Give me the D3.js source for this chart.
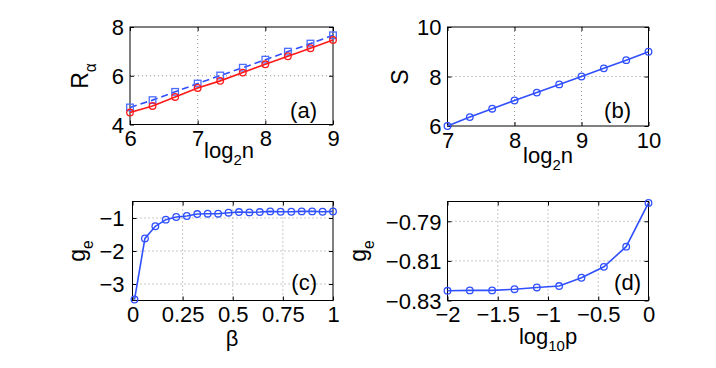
<!DOCTYPE html>
<html><head><meta charset="utf-8">
<script src="https://cdn.jsdelivr.net/npm/d3@7"></script>
<style>
body{margin:0;background:#fff;}
text{font-family:"Liberation Sans",Arial,Helvetica,sans-serif;fill:#000;}
</style></head>
<body><svg id="c" width="716" height="368"></svg>
<script>
// ---- data ----
const aX = [6, 6.333, 6.667, 7, 7.333, 7.667, 8, 8.333, 8.667, 9];
const aRed = [4.49, 4.76, 5.13, 5.50, 5.79, 6.13, 6.47, 6.80, 7.13, 7.47];
const aBlue = [4.70, 5.00, 5.34, 5.68, 6.01, 6.33, 6.66, 6.99, 7.32, 7.66];
const bX = [7, 7.333, 7.667, 8, 8.333, 8.667, 9, 9.333, 9.667, 10];
const bS = [6.0, 6.36, 6.70, 7.03, 7.35, 7.68, 8.0, 8.33, 8.66, 9.0];
const cBeta = [0.01, 0.062, 0.114, 0.166, 0.218, 0.271, 0.323, 0.375, 0.427, 0.479,
               0.531, 0.583, 0.635, 0.687, 0.739, 0.792, 0.844, 0.896, 0.948, 1.0];
const cG = [-3.47, -1.62, -1.25, -1.05, -0.97, -0.94, -0.88, -0.87, -0.87, -0.84,
            -0.82, -0.83, -0.82, -0.80, -0.81, -0.81, -0.80, -0.80, -0.81, -0.80];
const dX = [-2, -1.778, -1.556, -1.333, -1.111, -0.889, -0.667, -0.444, -0.222, 0];
const dG = [-0.8251, -0.8249, -0.8249, -0.8243, -0.8234, -0.8227, -0.8185, -0.8130, -0.8028, -0.7807];
const aXTicks = [6, 7, 8, 9], aYTicks = [4, 6, 8];
const bXTicks = [7, 8, 9, 10], bYTicks = [6, 8, 10];
const cXTicks = [0, 0.25, 0.5, 0.75, 1], cYTicks = [-3, -2, -1];
const cXLabels = ["0", "0.25", "0.5", "0.75", "1"];
const dXTicks = [-2, -1.5, -1, -0.5, 0], dYTicks = [-0.83, -0.81, -0.79];
const dXLabels = ["\u22122", "\u22121.5", "\u22121", "\u22120.5", "0"];
const dYLabels = ["\u22120.83", "\u22120.81", "\u22120.79"];

const BLUE = "#3050ff", RED = "#ff1a1a", SQ = "#4a6cff";
const svg = d3.select("#c");

function panel(o) {
  const x = d3.scaleLinear().domain(o.xd).range([o.l, o.r]);
  const y = d3.scaleLinear().domain(o.yd).range([o.b, o.t]);
  const g = svg.append("g");
  o.xGrid.forEach(v => g.append("line").attr("x1", x(v)).attr("x2", x(v)).attr("y1", o.t).attr("y2", o.b)
    .attr("stroke", "#777").attr("stroke-width", 0.8).attr("stroke-dasharray", "1,3"));
  o.yGrid.forEach(v => g.append("line").attr("y1", y(v)).attr("y2", y(v)).attr("x1", o.l).attr("x2", o.r)
    .attr("stroke", "#777").attr("stroke-width", 0.8).attr("stroke-dasharray", "1,3"));
  const xa = d3.axisBottom(x).tickValues(o.xt).tickSize(-4).tickPadding(6)
    .tickFormat((d, i) => o.xl ? o.xl[i] : String(d));
  const ya = d3.axisLeft(y).tickValues(o.yt).tickSize(-4).tickPadding(o.yp || 6)
    .tickFormat((d, i) => o.yl ? o.yl[i] : String(d));
  const gx = g.append("g").attr("transform", `translate(0,${o.b})`).call(xa);
  const gy = g.append("g").attr("transform", `translate(${o.l},0)`).call(ya);
  const gxt = g.append("g").attr("transform", `translate(0,${o.t})`).call(d3.axisTop(x).tickValues(o.xt).tickSize(-4).tickFormat(""));
  const gyr = g.append("g").attr("transform", `translate(${o.r},0)`).call(d3.axisRight(y).tickValues(o.yt).tickSize(-4).tickFormat(""));
  [gx, gy, gxt, gyr].forEach(a => {
    a.select(".domain").remove();
    a.selectAll("line").attr("stroke", "#000");
    a.selectAll("text").attr("font-size", o.fs).attr("font-family", "Liberation Sans, Arial, sans-serif").attr("fill", "#000");
  });
  gx.selectAll("text").attr("dy", "0.72em");
  gy.selectAll("text").attr("dy", "0.36em");
  g.append("rect").attr("x", o.l).attr("y", o.t).attr("width", o.r - o.l).attr("height", o.b - o.t)
    .attr("fill", "none").attr("stroke", "#000").attr("stroke-width", 1);
  return {x, y, g};
}

function series(p, xs, ys, color, marker, dash, mcolor) {
  const line = d3.line().x((d, i) => p.x(xs[i])).y(d => p.y(d));
  p.g.append("path").attr("d", line(ys)).attr("fill", "none").attr("stroke", color)
    .attr("stroke-width", 1.6).attr("stroke-dasharray", dash || null);
  ys.forEach((v, i) => {
    if (marker === "circle") {
      p.g.append("circle").attr("cx", p.x(xs[i])).attr("cy", p.y(v)).attr("r", 3.3)
        .attr("fill", "none").attr("stroke", mcolor || color).attr("stroke-width", 1.3);
    } else {
      p.g.append("rect").attr("x", p.x(xs[i]) - 3.3).attr("y", p.y(v) - 3.3).attr("width", 6.6).attr("height", 6.6)
        .attr("fill", "none").attr("stroke", mcolor || color).attr("stroke-width", 1.3);
    }
  });
}

function label(x, y, main, sub, fs, rot, subShift) {
  const t = svg.append("text").attr("font-size", fs).attr("text-anchor", "middle")
    .attr("transform", `translate(${x},${y})` + (rot ? " rotate(-90)" : ""));
  t.append("tspan").text(main[0]);
  if (sub) {
    const s = subShift || fs * 0.3;
    t.append("tspan").attr("font-size", fs * 0.68).attr("dy", s).text(sub);
    if (main[1]) t.append("tspan").attr("dy", -s).text(main[1]);
  }
  return t;
}

const FS = 22;
// panel (a)
const pa = panel({l: 130, r: 333, t: 27, b: 124.5, xd: [6, 9], yd: [4, 8], xt: aXTicks, yt: aYTicks,
  xGrid: [7, 8], yGrid: [6], fs: FS});
series(pa, aX, aBlue, BLUE, "square", "7,4", SQ);
series(pa, aX, aRed, RED, "circle");
svg.append("text").attr("x", 317).attr("y", 118).attr("text-anchor", "end").attr("font-size", FS).text("(a)");
label(229, 158, ["log", "n"], "2", FS, false);
label(88, 76, ["R"], "\u03b1", 23, true, 8);

// panel (b)
const pb = panel({l: 447.5, r: 648.5, t: 27, b: 126, xd: [7, 10], yd: [6, 10], xt: bXTicks, yt: bYTicks,
  xGrid: [8, 9], yGrid: [8], fs: FS});
series(pb, bX, bS, BLUE, "circle");
svg.append("text").attr("x", 631).attr("y", 118).attr("text-anchor", "end").attr("font-size", FS).text("(b)");
label(548, 163, ["log", "n"], "2", FS, false);
label(408, 77, ["S"], null, 23, true);

// panel (c)
const pc = panel({l: 132.5, r: 333, t: 201.5, b: 300.5, xd: [0, 1], yd: [-3.5, -0.5], xt: cXTicks, yt: cYTicks,
  xGrid: [0.25, 0.5, 0.75], yGrid: [-3, -2, -1], fs: FS, xl: cXLabels, yp: 8,
  yl: cYTicks.map(v => "\u2212" + Math.abs(v))});
series(pc, cBeta, cG, BLUE, "circle");
svg.append("text").attr("x", 317).attr("y", 290).attr("text-anchor", "end").attr("font-size", FS).text("(c)");
label(232, 346, ["\u03b2"], null, FS, false);
label(85, 251, ["g"], "e", 23, true, 8);

// panel (d)
const pd = panel({l: 447.5, r: 648.5, t: 201.5, b: 300.5, xd: [-2, 0], yd: [-0.83, -0.78], xt: dXTicks, yt: dYTicks,
  xGrid: [-1.5, -1, -0.5], yGrid: [-0.81, -0.79], fs: FS, xl: dXLabels, yl: dYLabels});
series(pd, dX, dG, BLUE, "circle");
svg.append("text").attr("x", 641).attr("y", 290).attr("text-anchor", "end").attr("font-size", FS).text("(d)");
label(548, 344, ["log", "p"], "10", FS, false);
label(366, 251, ["g"], "e", 23, true, 8);
</script></body></html>
